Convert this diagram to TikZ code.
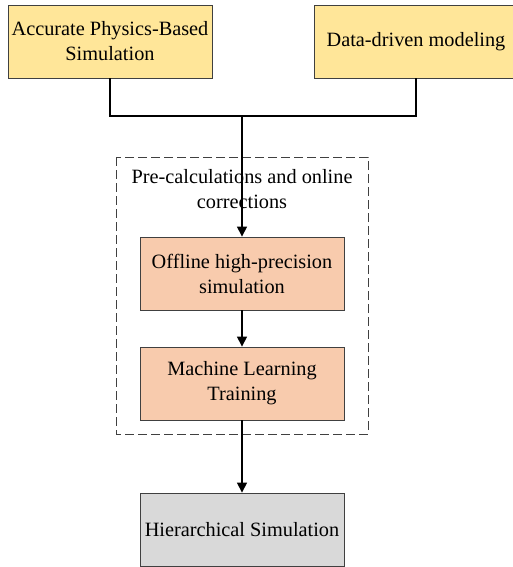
\documentclass[tikz,border=0pt]{standalone}
\usepackage{fontspec}
\setmainfont{Liberation Serif}
\usepackage{xcolor}
\usetikzlibrary{arrows.meta,positioning}

\definecolor{inyellow}{HTML}{FFE699}
\definecolor{precorange}{HTML}{F8CBAD}
\definecolor{outgrey}{HTML}{D9D9D9}
\definecolor{edgegrey}{HTML}{404040}

\tikzset{
  procbox/.style={draw=edgegrey, line width=0.8pt, minimum width=204pt, minimum height=73pt,
    align=center, inner sep=2pt, font=\fontsize{20.3}{25}\selectfont},
  flow/.style={line width=1.2pt, -{Triangle[length=10pt,width=10pt]}}
}

\begin{document}
\begin{tikzpicture}[x=1pt,y=-1pt]
                \useasboundingbox (0,0) rectangle (513,567);
                \node[procbox, fill=inyellow] (phys) at (110,41.5) {Accurate Physics-Based\\Simulation};
                \node[procbox, fill=inyellow] (data) at (416,41.5) {Data-driven modeling};

                \draw[dash pattern=on 9pt off 4pt, draw=edgegrey, line width=1pt] (116,157) rectangle (368,434);
                \node[font=\fontsize{20.3}{25}\selectfont, align=center] (pretitle) at (242,189) {Pre-calculations and online\\corrections};

                \node[procbox, fill=precorange] (offline) at (242,273.5) {Offline high-precision\\simulation};
                \node[procbox, fill=precorange] (mltrain) at (242,383.5) {Machine Learning\\Training};
                \node[procbox, fill=outgrey] (hier) at (242,529.5) {Hierarchical Simulation};

                \coordinate (join) at (242,116);
                \draw[line width=1.2pt] (phys.south) |- (join) -| (data.south);
                \draw[flow] (join) -- (offline.north);
                \draw[flow] (offline) -- (mltrain);
                \draw[flow] (mltrain) -- (hier);
            \end{tikzpicture}
\end{document}
